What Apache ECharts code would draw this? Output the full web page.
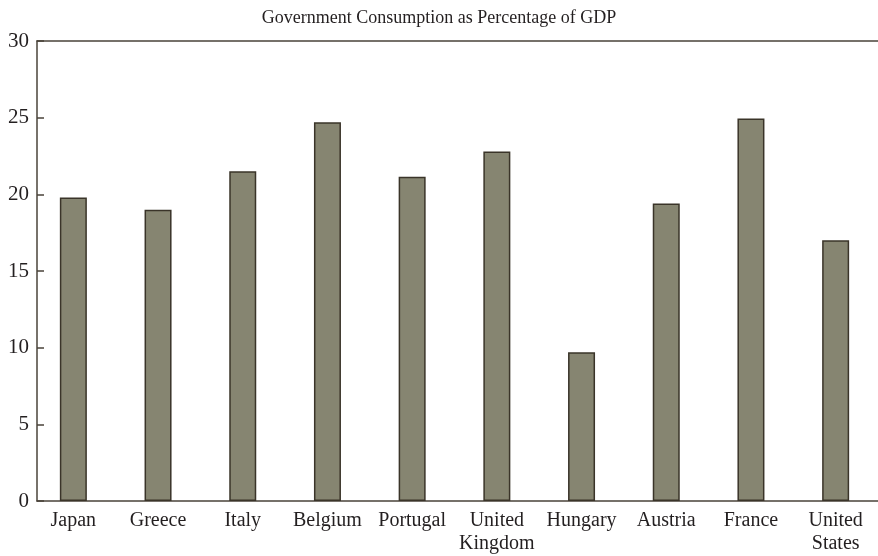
<!DOCTYPE html>
<html>
<head>
<meta charset="utf-8">
<script src="https://cdn.jsdelivr.net/npm/echarts@6/dist/echarts.min.js"></script>
<style>
    html, body { margin: 0; padding: 0; background: #fff; }
    #chart { width: 878px; height: 556px; }
</style>
</head>
<body>
<div id="chart"></div>
<script>
// government consumption, % of GDP
const countries = ['Japan', 'Greece', 'Italy', 'Belgium', 'Portugal', 'United\nKingdom',
    'Hungary', 'Austria', 'France', 'United\nStates'];
const consumption = [19.8, 19.0, 21.5, 24.7, 21.15, 22.8, 9.7, 19.4, 24.95, 17.0];
const yTicks = [0, 5, 10, 15, 20, 25, 30];

const serif = '"Liberation Serif", "DejaVu Serif", serif';
const ink = '#231f20';
const frame = '#4a433a';

let chart = echarts.init(document.getElementById('chart'));
let option = {
    animation: false,
    title: {
        text: 'Government Consumption as Percentage of GDP',
        left: 'center',
        top: 4,
        textStyle: {
            fontFamily: serif,
            fontSize: 18,
            fontWeight: 'normal',
            color: ink
        }
    },
    grid: [
        // frame: y axis, baseline, top rule
        {left: 37, right: 0, top: 41, bottom: 55},
        // bars and category labels
        {left: 31, right: -10, top: 41, bottom: 55}
    ],
    xAxis: [
        {
            type: 'category',
            gridIndex: 0,
            data: countries,
            axisLine: {lineStyle: {color: frame, width: 1.5}},
            axisTick: {show: false},
            axisLabel: {show: false}
        },
        {
            type: 'category',
            gridIndex: 0,
            position: 'top',
            data: countries,
            axisLine: {lineStyle: {color: frame, width: 1.5}},
            axisTick: {show: false},
            axisLabel: {show: false}
        },
        {
            type: 'category',
            gridIndex: 1,
            data: countries,
            axisLine: {show: false},
            axisTick: {show: false},
            axisLabel: {
                interval: 0,
                margin: 8,
                fontFamily: serif,
                fontSize: 20,
                lineHeight: 23,
                color: ink
            }
        }
    ],
    yAxis: [
        {
            type: 'value',
            gridIndex: 0,
            min: yTicks[0],
            max: yTicks[yTicks.length - 1],
            interval: 5,
            axisLine: {show: true, lineStyle: {color: frame, width: 1.5}},
            axisTick: {show: true, inside: true, length: 7, lineStyle: {color: frame, width: 1.5}},
            axisLabel: {
                margin: 8,
                fontFamily: serif,
                fontSize: 21,
                color: ink
            },
            splitLine: {show: false}
        },
        {
            type: 'value',
            gridIndex: 1,
            min: 0,
            max: 30,
            show: false
        }
    ],
    series: [
        {
            type: 'bar',
            xAxisIndex: 2,
            yAxisIndex: 1,
            data: consumption,
            barWidth: 27,
            itemStyle: {
                color: '#868571',
                borderColor: '#3a3429',
                borderWidth: 1.5
            }
        }
    ]
};
chart.setOption(option);
</script>
</body>
</html>
